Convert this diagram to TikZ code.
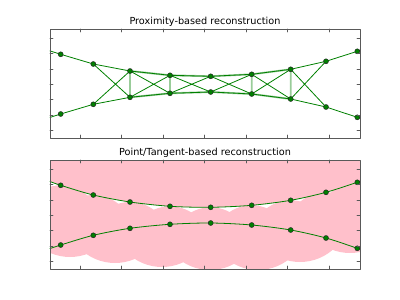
\documentclass[tikz,border=0pt]{standalone}
\usepackage{fontspec}
\setmainfont{DejaVu Sans}
\definecolor{mplgreen}{rgb}{0,0.5,0}
\definecolor{mplpink}{RGB}{255,192,203}
\tikzset{
	pt/.style={circle,draw=black!85,fill=mplgreen,line width=0.5pt,inner sep=0pt,minimum size=5pt},
	edge/.style={mplgreen,line width=0.8pt},
	weak/.style={mplgreen!40,line width=1.9pt},
	frame/.style={draw=black!65,line width=0.9pt},
	tick/.style={draw=black!65,line width=0.6pt},
}
\begin{document}
\begin{tikzpicture}[x=1pt,y=-1pt,font=\fontsize{9.7}{11}\selectfont,line join=round,line cap=round]
	\useasboundingbox (0,0) rectangle (400,300);
	\def \xmin{50}
	\def \xmax{360}
	\def \ytop{29}
	\def \ybot{138}
	\def \dy{131}
	\def \pts{0/60.7/54.3/114,1/93.3/64/104.3,2/130/71/97.3,3/170/75.3/93.3,4/210.7/76.3/92,5/251.7/74.3/94,6/290.7/69.3/99,7/326/61.3/107,8/357.3/51.3/117.3}
	
	%Proximity
	\foreach \i/\x/\yu/\yl in \pts {
		\coordinate (u\i) at (\x,\yu);
		\coordinate (l\i) at (\x,\yl);
	}
	\coordinate (uL) at (\xmin,50.9);
	\coordinate (lL) at (\xmin,117.4);
	\coordinate (uR) at (\xmax,50.4);
	\coordinate (lR) at (\xmax,118.2);
	\node (t1) at (205,21.5) {Proximity-based reconstruction};
	\draw[weak] (u2)--(l2) (u3)--(l3) (u5)--(l5) (u6)--(l6)
	(u2)--(u3)--(u4)--(u5)--(u6)
	(l2)--(l3)--(l4)--(l5)--(l6);
	\draw[edge] (uL)--(u0)--(u1)--(u2)--(u3)--(u4)--(u5)--(u6)--(u7)--(u8)--(uR)
	(lL)--(l0)--(l1)--(l2)--(l3)--(l4)--(l5)--(l6)--(l7)--(l8)--(lR)
	(u1)--(l2) (l1)--(u2)
	(u2)--(l3) (l2)--(u3)
	(u3)--(l4) (l3)--(u4)
	(u4)--(l5) (l4)--(u5)
	(u5)--(l6) (l5)--(u6)
	(u6)--(l7) (l6)--(u7);
	\foreach \i in {0,...,8} {
		\node[pt] (pu\i) at (u\i) {};
		\node[pt] (pl\i) at (l\i) {};
	}
	\draw[frame] (\xmin,\ytop) rectangle (\xmax,\ybot);
	
	%Point/Tangent
	\begin{scope}[shift={(0,\dy)}]
		\foreach \i/\x/\yu/\yl in \pts {
			\coordinate (bu\i) at (\x,\yu);
			\coordinate (bl\i) at (\x,\yl);
		}
		\coordinate (buL) at (\xmin,50.5);
		\coordinate (blL) at (\xmin,117.6);
		\coordinate (buR) at (\xmax,50.3);
		\coordinate (blR) at (\xmax,118.3);
		\node (t2) at (205,21.5) {Point/Tangent-based reconstruction};
		\begin{scope}
			\clip (\xmin,\ytop) rectangle (\xmax,\ybot);
			\fill[mplpink] (\xmin,\ytop-5) -- plot[smooth] coordinates {(buL) (bu0) (bu1) (bu2) (bu3) (bu4) (bu5) (bu6) (bu7) (bu8) (buR)} -- (\xmax,\ytop-5) -- cycle;
			\begin{scope}
				\clip plot[smooth] coordinates {(blL) (bl0) (bl1) (bl2) (bl3) (bl4) (bl5) (bl6) (bl7) (bl8) (blR)} -- (\xmax,\ytop-5) -- (\xmin,\ytop-5) -- cycle;
				\foreach \i/\x/\yu/\yl in \pts {
					\fill[mplpink] (\x,\yu+40) circle[radius=40pt];
				}
			\end{scope}
			\begin{scope}
				\clip plot[smooth] coordinates {(blL) (bl0) (bl1) (bl2) (bl3) (bl4) (bl5) (bl6) (bl7) (bl8) (blR)} -- (\xmax,\ybot+5) -- (\xmin,\ybot+5) -- cycle;
				\foreach \x/\b in {70/126,115/132,162/136,210/139,258/139,300/131,350/122} {
					\fill[mplpink] (\x,\b-50) circle[radius=50pt];
				}
			\end{scope}
		\end{scope}
		\draw[edge] plot[smooth] coordinates {(buL) (bu0) (bu1) (bu2) (bu3) (bu4) (bu5) (bu6) (bu7) (bu8) (buR)};
		\draw[edge] plot[smooth] coordinates {(blL) (bl0) (bl1) (bl2) (bl3) (bl4) (bl5) (bl6) (bl7) (bl8) (blR)};
		\foreach \i in {0,...,8} {
			\node[pt] (pbu\i) at (bu\i) {};
			\node[pt] (pbl\i) at (bl\i) {};
		}
		\draw[frame] (\xmin,\ytop) rectangle (\xmax,\ybot);
	\end{scope}
	
	%Ticks
	\foreach \s in {0,\dy} {
		\foreach \x in {80,121.5,163,204.5,246,287.5,329} {
			\draw[tick] (\x,\ytop+\s)--++(0,3) (\x,\ybot+\s)--++(0,-3);
		}
		\foreach \y in {38.4,53.7,69,84.3,99.6,115,130.2} {
			\draw[tick] (\xmin,\y+\s)--++(3,0) (\xmax,\y+\s)--++(-3,0);
		}
	}
\end{tikzpicture}
\end{document}
